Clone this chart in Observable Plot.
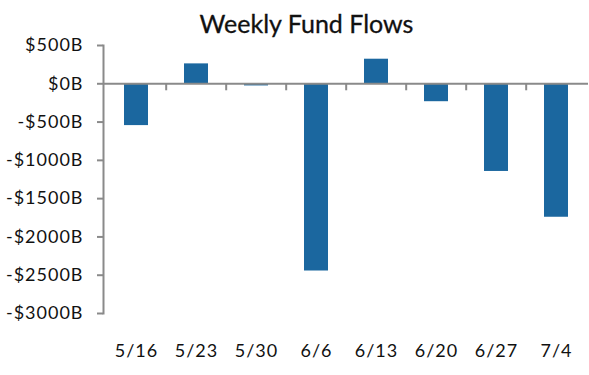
<!DOCTYPE html>
<html>
<head>
<meta charset="utf-8">
<script src="https://cdn.jsdelivr.net/npm/d3@7"></script>
<script src="https://cdn.jsdelivr.net/npm/@observablehq/plot@0.6"></script>
<style>
  html, body { margin: 0; padding: 0; background: #fff; }
  #wrap { width: 589px; font-family: Lato, "Open Sans", sans-serif; }
  #title { height: 30px; line-height: 30px; position: relative; top: 8px; z-index: 2; text-align: center;
           padding-left: 24px; box-sizing: border-box; font-size: 25px; color: #111; -webkit-text-stroke: 0.3px #111; }
  #chart svg { background: transparent; }
</style>
</head>
<body>
<div id="wrap">
  <div id="title">Weekly Fund Flows</div>
  <div id="chart"></div>
</div>
<script>
const weeks = ["5/16", "5/23", "5/30", "6/6", "6/13", "6/20", "6/27", "7/4"];
const flows = [-546, 260, -28, -2445, 321, -234, -1145, -1743];
const yTicks = [500, 0, -500, -1000, -1500, -2000, -2500, -3000];

const data = weeks.map((w, i) => ({week: w, flow: flows[i]}));

const W = 589, H = 345, ML = 103, MR = 1;
const step = (W - ML - MR) / weeks.length;
const gray = "#8a8a8a";
const barColor = "#1b679f";
const fmt = d => (d < 0 ? "-" : "") + "$" + Math.abs(d) + "B";

const plot = Plot.plot({
  width: W,
  height: H,
  marginLeft: ML,
  marginRight: MR,
  marginTop: 15,
  marginBottom: 62,
  style: {fontFamily: "Lato, 'Open Sans', sans-serif", fontSize: "18px", letterSpacing: "1px", color: "#111", background: "transparent"},
  x: {type: "band", domain: weeks, paddingInner: 0.6, paddingOuter: 0.3, label: null},
  y: {domain: [-3000, 500], label: null},
  marks: [
    Plot.barY(data, {x: "week", y: "flow", fill: barColor}),
    Plot.frame({anchor: "left", stroke: gray, strokeWidth: 2}),
    Plot.ruleY([0], {stroke: gray, strokeWidth: 2}),
    Plot.ruleX(weeks.slice(1), {x: d => d, y1: 0, y2: 0, insetBottom: -7, dx: -step / 2, stroke: gray, strokeWidth: 2}),
    Plot.axisY(yTicks, {tickSize: 6, tickPadding: 14, tickFormat: fmt, stroke: gray, strokeWidth: 2, fill: "#111", label: null}),
    Plot.axisX({tickSize: 0, tickPadding: 31, fill: "#111", label: null})
  ]
});
document.getElementById("chart").appendChild(plot);
</script>
</body>
</html>
